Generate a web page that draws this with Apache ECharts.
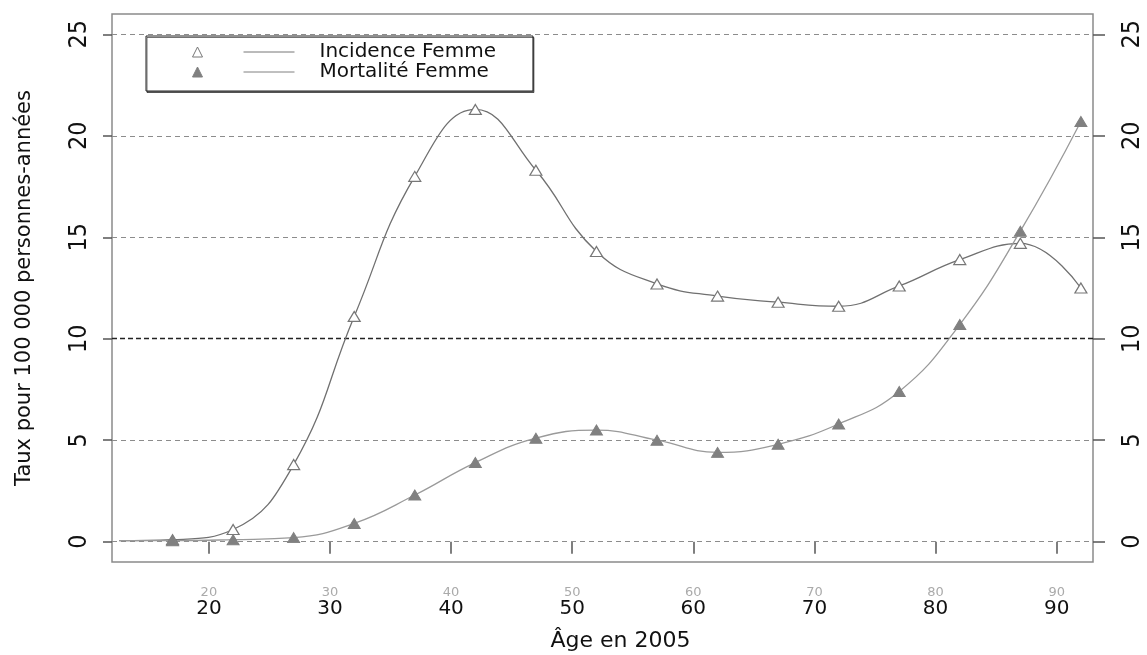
<!DOCTYPE html>
<html>
<head>
<meta charset="utf-8">
<script src="https://cdn.jsdelivr.net/npm/echarts@6/dist/echarts.min.js"></script>
<style>
html,body{margin:0;padding:0;background:#fff;}
#chart{width:1147px;height:655px;}
</style>
</head>
<body>
<div id="chart"></div>
<script>
// ---- data ----
const ages = [17, 22, 27, 32, 37, 42, 47, 52, 57, 62, 67, 72, 77, 82, 87, 92];
const incidenceFemme = [0.1, 0.6, 3.8, 11.1, 18.0, 21.3, 18.3, 14.3, 12.7, 12.1, 11.8, 11.6, 12.6, 13.9, 14.7, 12.5];
const mortaliteFemme = [0.05, 0.1, 0.2, 0.9, 2.3, 3.9, 5.1, 5.5, 5.0, 4.4, 4.8, 5.8, 7.4, 10.7, 15.3, 20.7];
// left end of the drawn curves (no marker there)
const curveStartAge = 12.6;
const incidenceStart = 0.05;
const mortaliteStart = 0.05;
const xTicks = [20, 30, 40, 50, 60, 70, 80, 90];
const yTicks = [0, 5, 10, 15, 20, 25];
const seriesNames = ['Incidence Femme', 'Mortalité Femme'];
const xTitle = 'Âge en 2005';
const yTitle = 'Taux pour 100 000 personnes-années';

function buildData(startAge, startVal, values) {
  const d = [{ value: [startAge, startVal], symbol: 'none' }];
  values.forEach((v, i) => d.push([ages[i], v]));
  return d;
}

const chart = echarts.init(document.getElementById('chart'), null, { renderer: 'canvas' });

const tickLine = { color: '#555', width: 1.5 };

const option = {
  backgroundColor: '#fff',
  animation: false,
  grid: {
    left: 112, right: 54, top: 14, bottom: 93,
    show: true, borderColor: '#8a8a8a', borderWidth: 1.5,
    containLabel: false, outerBoundsMode: 'none'
  },
  legend: {
    left: 146, top: 36, orient: 'vertical',
    padding: [6, 37, 9, 46],
    itemWidth: 102, itemHeight: 10, itemGap: 0,
    icon: 'path://M0,10L5,0L10,10Z M51,5L102,5',
    selectedMode: false,
    backgroundColor: '#fff', borderColor: '#222', borderWidth: 1,
    shadowColor: 'rgba(0,0,0,0.55)', shadowOffsetX: 1, shadowOffsetY: 1.5, shadowBlur: 0,
    textStyle: { fontFamily: 'DejaVu Sans', fontSize: 20, color: '#111', lineHeight: 20, padding: [0, 0, 0, 20] },
    data: [
      { name: seriesNames[0], itemStyle: { color: '#fff', borderColor: '#777', borderWidth: 1 } },
      { name: seriesNames[1], itemStyle: { color: '#808080', borderColor: '#808080', borderWidth: 1 } }
    ]
  },
  xAxis: [
    {
      type: 'value', min: 12, max: 93, position: 'bottom',
      axisLine: { show: false },
      axisTick: { show: true, customValues: xTicks, length: 12, lineStyle: tickLine },
      axisLabel: { customValues: xTicks, margin: 37, fontFamily: 'DejaVu Sans', fontSize: 20, color: '#111' },
      splitLine: { show: false },
      name: xTitle, nameLocation: 'middle', nameGap: 68,
      nameTextStyle: { fontFamily: 'DejaVu Sans', fontSize: 22, color: '#111', padding: [0, 0, 0, 36] }
    },
    {
      type: 'value', min: 12, max: 93, position: 'bottom',
      axisLine: { show: false }, axisTick: { show: false },
      axisLabel: { customValues: xTicks, margin: 24, fontFamily: 'DejaVu Sans', fontSize: 13, color: '#aaa' },
      splitLine: { show: false }
    }
  ],
  yAxis: [
    {
      type: 'value', min: -1, max: 26, position: 'left',
      axisLine: { show: false },
      axisTick: { show: true, customValues: yTicks, length: 9, lineStyle: tickLine },
      axisLabel: { customValues: yTicks, rotate: 90, margin: 20,
        fontFamily: "'Liberation Sans Narrow', 'DejaVu Sans Condensed', sans-serif", fontSize: 25, color: '#111' },
      splitLine: { show: false },
      name: yTitle, nameLocation: 'middle', nameRotate: 90, nameGap: 77,
      nameTextStyle: { fontFamily: 'DejaVu Sans', fontSize: 21, color: '#111' }
    },
    {
      type: 'value', min: -1, max: 26, position: 'right',
      axisLine: { show: false },
      axisTick: { show: true, customValues: yTicks, length: 12, lineStyle: tickLine },
      axisLabel: { customValues: yTicks, rotate: 90, margin: 27,
        fontFamily: "'Liberation Sans Narrow', 'DejaVu Sans Condensed', sans-serif", fontSize: 25, color: '#111' },
      splitLine: { show: false }
    }
  ],
  series: [
    {
      name: '__grid', type: 'line', data: [], silent: true,
      markLine: {
        silent: true, symbol: 'none', z: 1, label: { show: false },
        data: yTicks.map(v => ({
          yAxis: v,
          lineStyle: v === 10
            ? { color: '#222', width: 1.3, type: [5, 3] }
            : { color: '#8c8c8c', width: 1, type: [5, 4] }
        }))
      }
    },
    {
      name: seriesNames[0], type: 'line', smooth: 0.45,
      data: buildData(curveStartAge, incidenceStart, incidenceFemme),
      symbol: 'triangle', symbolSize: [12, 10],
      lineStyle: { color: '#707070', width: 1.3 },
      itemStyle: { color: '#fff', borderColor: '#777', borderWidth: 1.2 },
      z: 3
    },
    {
      name: seriesNames[1], type: 'line', smooth: 0.45,
      data: buildData(curveStartAge, mortaliteStart, mortaliteFemme),
      symbol: 'triangle', symbolSize: [12, 10],
      lineStyle: { color: '#9a9a9a', width: 1.3 },
      itemStyle: { color: '#808080', borderColor: '#808080', borderWidth: 1 },
      z: 3
    }
  ]
};
chart.setOption(option);
</script>
</body>
</html>
